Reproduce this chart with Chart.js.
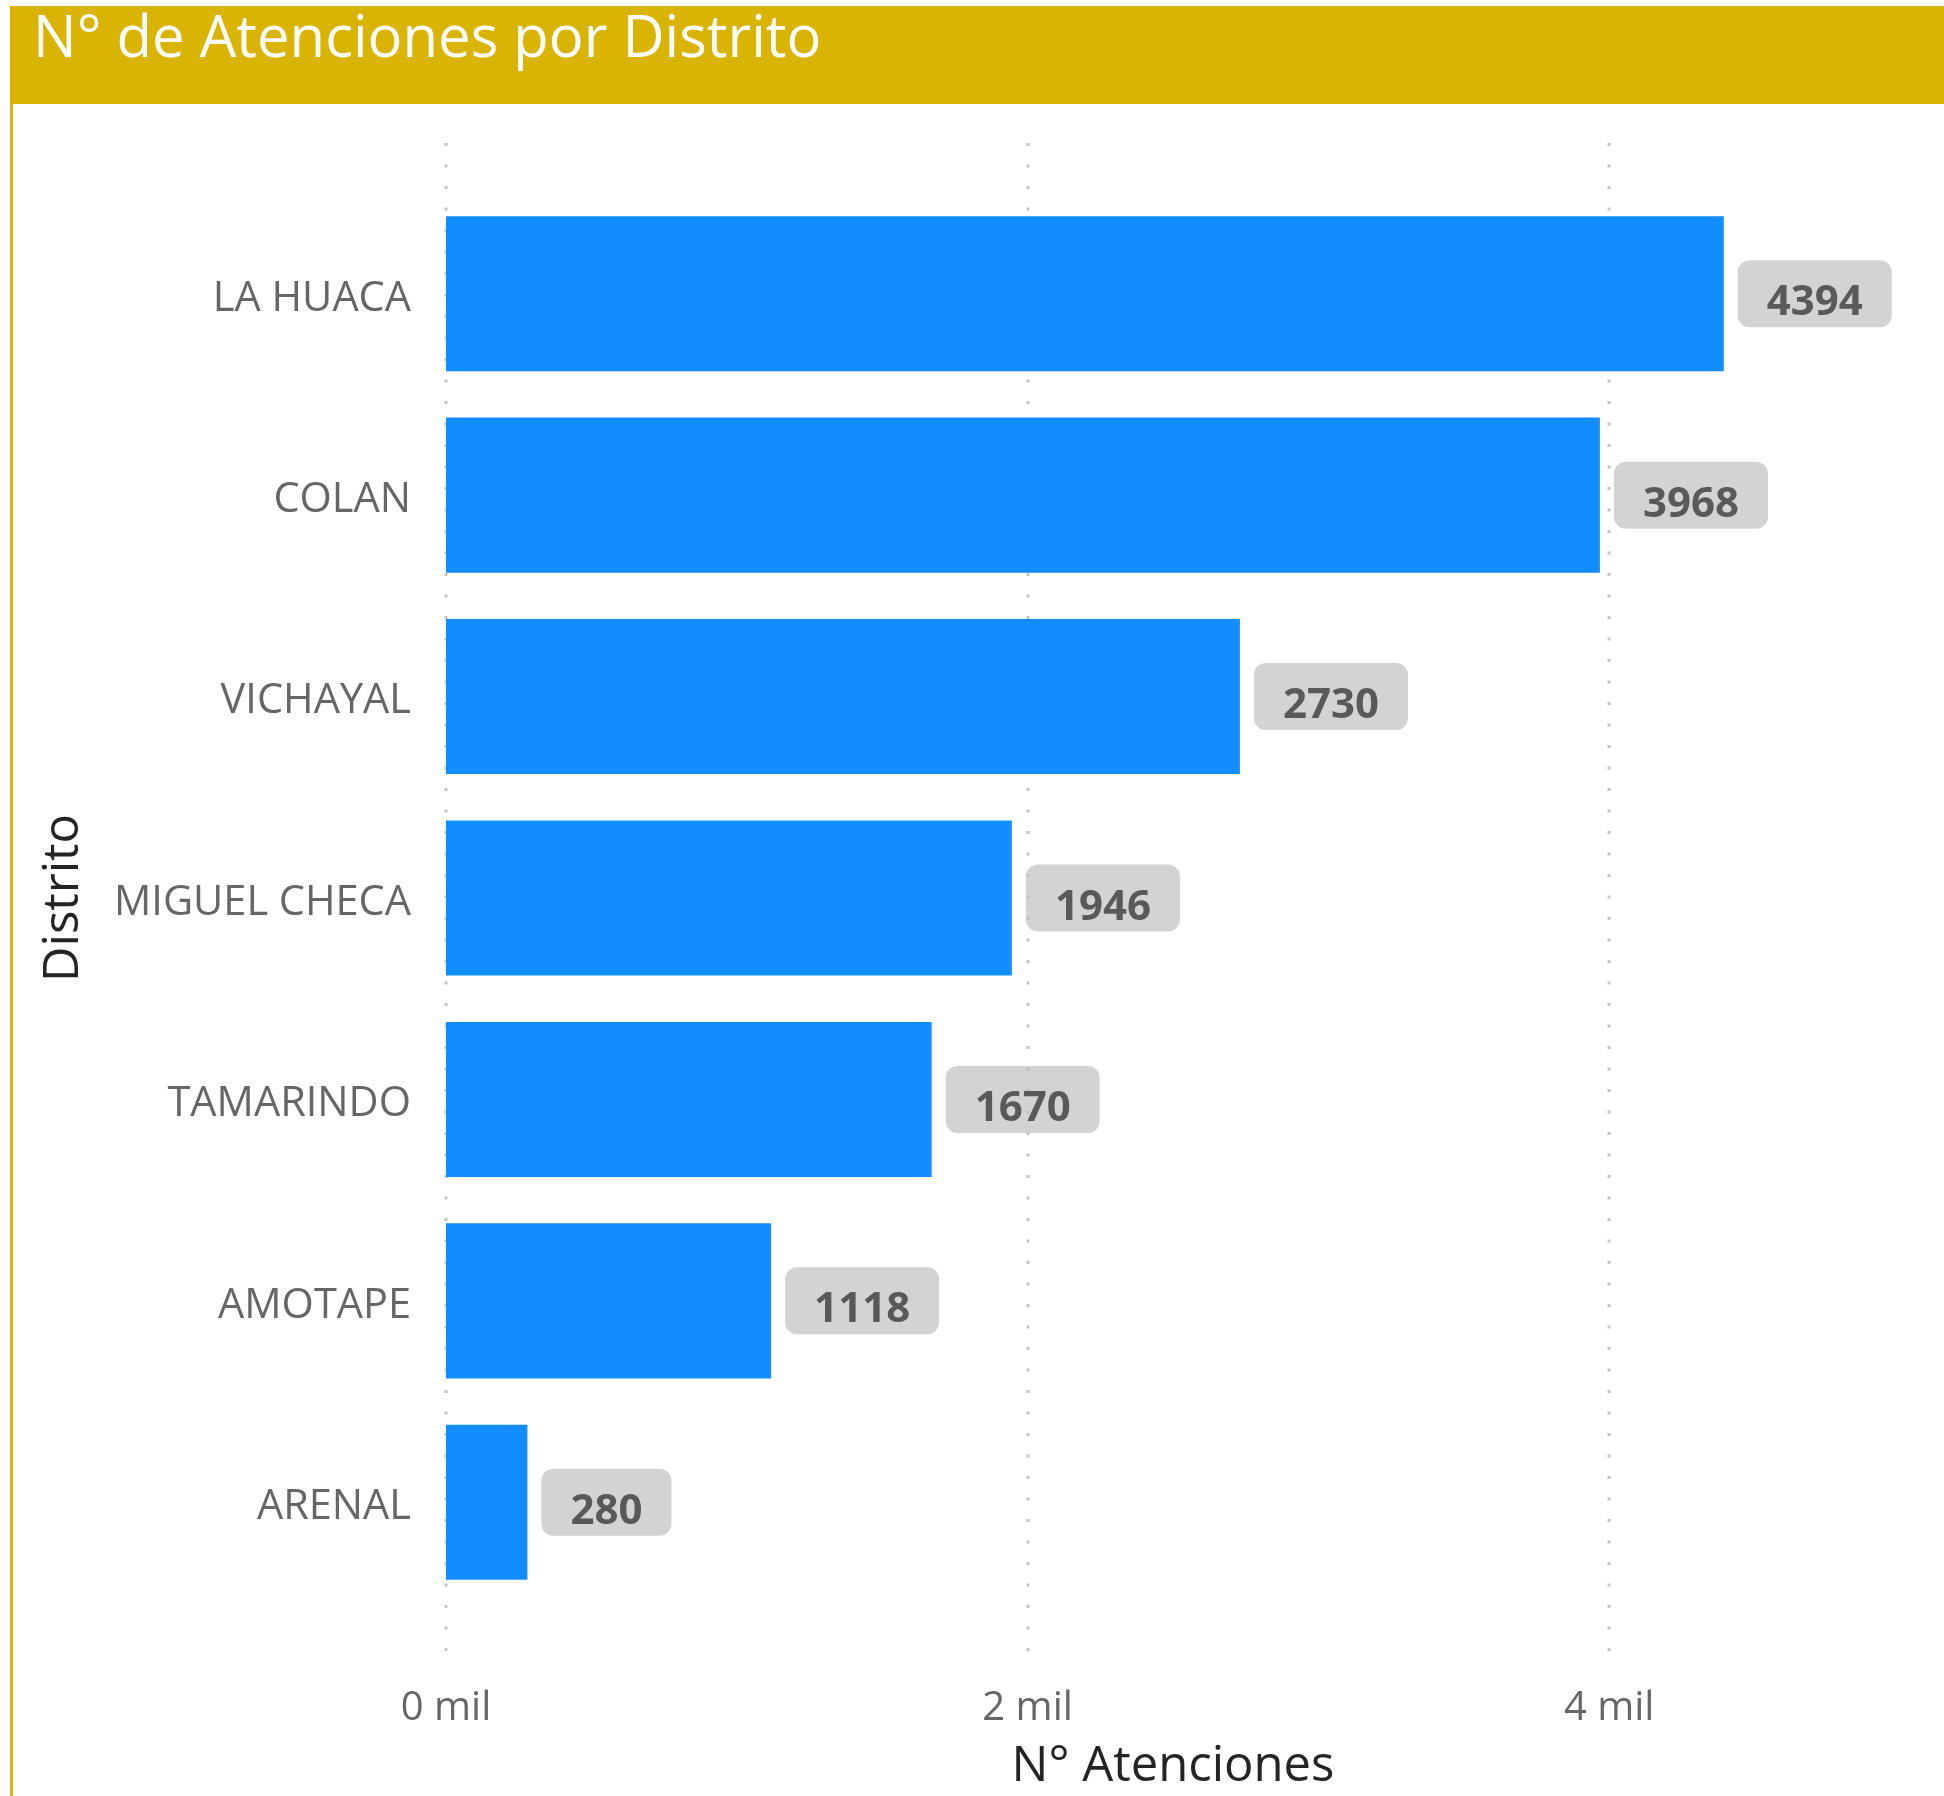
<!DOCTYPE html>
<html>
<head>
<meta charset="utf-8">
<title>Nº de Atenciones por Distrito</title>
<script src="https://cdn.jsdelivr.net/npm/chart.js@4.4.0/dist/chart.umd.min.js"></script>
<style>
  html, body { margin: 0; padding: 0; background: #fff; }
  body { width: 1944px; height: 1796px; position: relative; overflow: hidden; font-family: "Open Sans", sans-serif; }
  #header { position: absolute; left: 10px; top: 6px; width: 1934px; height: 98px; background: #DAB402; }
  #header h1 { position: absolute; left: 23px; top: 0px; margin: 0; font-size: 58px; line-height: 58px; font-weight: 400; color: #fff; white-space: nowrap; }
  #leftBorder { position: absolute; left: 10px; top: 104px; width: 3px; height: 1692px; background: #DAB402; }
  #attChart { position: absolute; left: 0; top: 0; }
</style>
</head>
<body>
<div id="header"><h1>N° de Atenciones por Distrito</h1></div>
<div id="leftBorder"></div>
<canvas id="attChart" width="1944" height="1796"></canvas>
<script>
// datos
const districts = ["LA HUACA", "COLAN", "VICHAYAL", "MIGUEL CHECA", "TAMARINDO", "AMOTAPE", "ARENAL"];
const attentions = [4394, 3968, 2730, 1946, 1670, 1118, 280];
const xTickValues = [0, 2000, 4000];
const xTickLabels = ["0 mil", "2 mil", "4 mil"];

// lineas de cuadricula punteadas, algo mas largas que el area del grafico
const dottedGrid = {
    id: 'dottedGrid',
    beforeDatasetsDraw(chart) {
        const { ctx, chartArea, scales: { x } } = chart;
        ctx.save();
        ctx.strokeStyle = '#c4c4c4';
        ctx.lineWidth = 3;
        ctx.setLineDash([3, 18.5]);
        x.ticks.forEach(t => {
            const px = Math.round(x.getPixelForValue(t.value));
            ctx.beginPath();
            ctx.moveTo(px, chartArea.top - 50);
            ctx.lineTo(px, chartArea.bottom + 58);
            ctx.stroke();
        });
        ctx.restore();
    }
};

// etiquetas de datos en cajas grises
const valueBoxes = {
    id: 'valueBoxes',
    afterDatasetsDraw(chart) {
        const ctx = chart.ctx;
        const meta = chart.getDatasetMeta(0);
        ctx.save();
        ctx.font = 'bold 42px "Open Sans"';
        meta.data.forEach((bar, i) => {
            const txt = String(attentions[i]);
            const w = ctx.measureText(txt).width + 58;
            const bx = bar.x + 14;
            const by = bar.y - 33.5;
            ctx.fillStyle = 'rgba(190,190,190,0.68)';
            ctx.beginPath();
            ctx.roundRect(bx, by, w, 67, 12);
            ctx.fill();
            ctx.fillStyle = '#595959';
            ctx.textAlign = 'center';
            ctx.textBaseline = 'alphabetic';
            ctx.fillText(txt, bx + w / 2, bar.y + 21.5);
        });
        ctx.restore();
    }
};

new Chart(document.getElementById('attChart'), {
    type: 'bar',
    data: {
        labels: districts,
        datasets: [{
            label: 'N° Atenciones',
            data: attentions,
            backgroundColor: '#118DFF',
            borderWidth: 0,
            categoryPercentage: 1,
            barPercentage: 0.77
        }]
    },
    options: {
        indexAxis: 'y',
        responsive: false,
        animation: false,
        layout: { padding: { top: 193, right: 44, left: 0, bottom: 0 } },
        plugins: {
            legend: { display: false },
            tooltip: { enabled: false }
        },
        scales: {
            x: {
                min: 0,
                max: 5000,
                grid: { display: false },
                border: { display: false },
                afterBuildTicks: s => { s.ticks = xTickValues.map(v => ({ value: v })); },
                afterFit: s => { s.height = 193; },
                ticks: {
                    padding: 74,
                    color: '#666666',
                    maxRotation: 0,
                    autoSkip: false,
                    font: { family: 'Open Sans', size: 40 },
                    callback: v => xTickLabels[xTickValues.indexOf(v)]
                },
                title: {
                    display: true,
                    text: 'N° Atenciones',
                    color: '#252423',
                    font: { family: 'Open Sans', size: 49 },
                    padding: { top: 10, bottom: 0 }
                }
            },
            y: {
                grid: { display: false },
                border: { display: false },
                afterFit: s => { s.width = 446; },
                ticks: {
                    padding: 27,
                    labelOffset: 5,
                    color: '#666666',
                    font: { family: 'Open Sans', size: 41.5 }
                },
                title: {
                    display: true,
                    text: 'Distrito',
                    color: '#252423',
                    font: { family: 'Open Sans', size: 49 },
                    padding: { top: 34.5, bottom: 0 }
                }
            }
        }
    },
    plugins: [dottedGrid, valueBoxes]
});
</script>
</body>
</html>
